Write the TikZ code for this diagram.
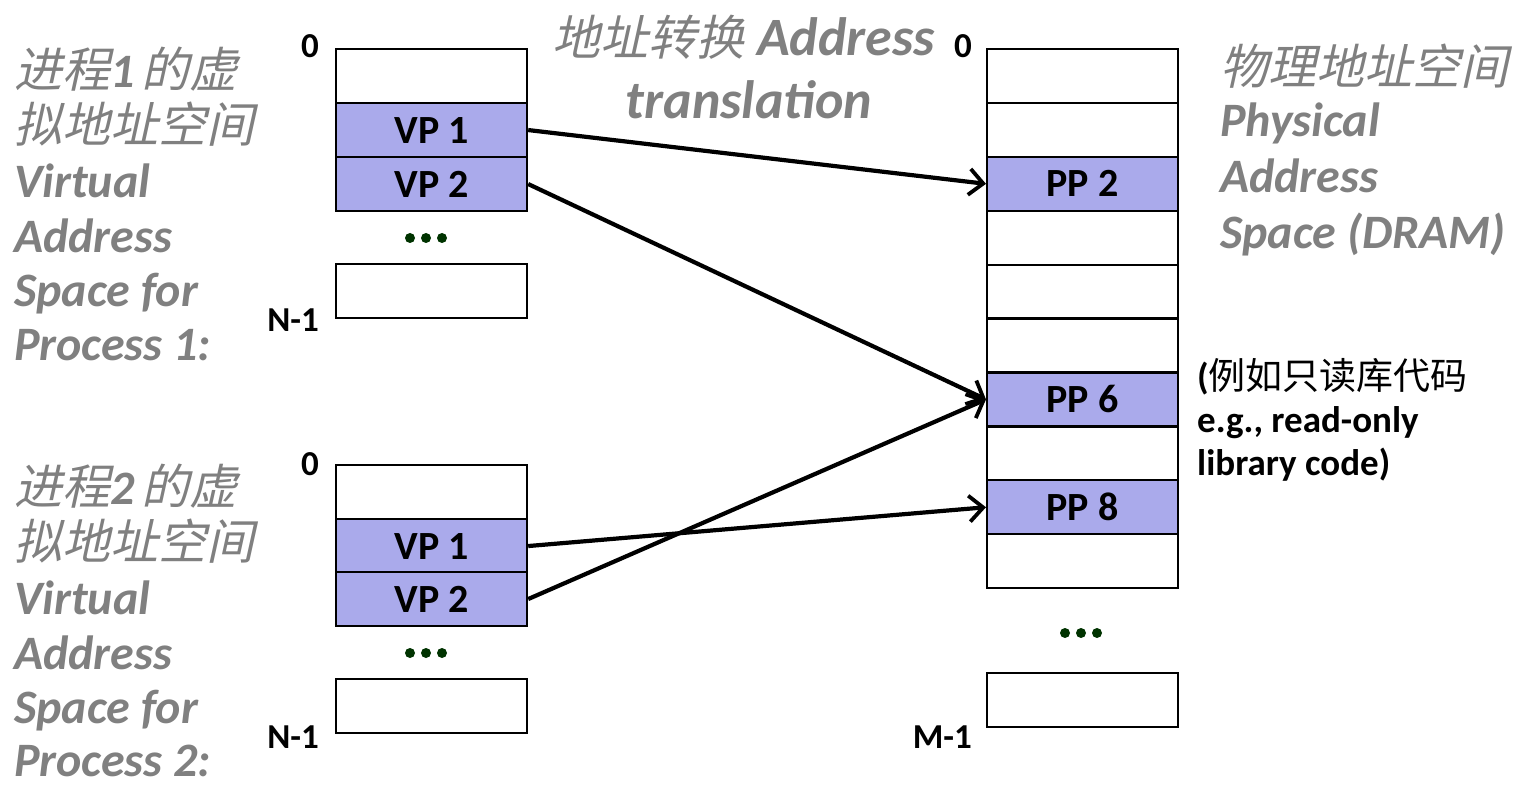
\documentclass[tikz,border=0pt]{standalone}
\usepackage{fontspec}
\setmainfont{Carlito}
\newfontfamily\cjk{Noto Sans CJK SC}
\newfontfamily\cjksl[FakeSlant=0.22]{Noto Sans CJK SC}
\usetikzlibrary{arrows.meta}
\definecolor{pagefill}{RGB}{170,170,235}
\definecolor{labelgray}{RGB}{128,128,128}
\definecolor{dotgreen}{RGB}{0,51,0}
\newcommand{\grayital}[1]{{\fontsize{48}{48}\selectfont\rmfamily\bfseries\itshape #1}}
\begin{document}
\begin{tikzpicture}[x=1pt,y=-1pt,
  cell/.style={draw=black, line width=2.2pt, minimum width=191pt, minimum height=53.9pt,
    inner sep=0pt, anchor=north west, font=\fontsize{40}{40}\selectfont\bfseries},
  used/.style={cell, fill=pagefill},
  idx/.style={font=\fontsize{35}{35}\selectfont\bfseries, anchor=base east, inner sep=0pt},
  graytxt/.style={text=labelgray, font=\fontsize{48}{48}\selectfont\bfseries\itshape, anchor=base west, inner sep=0pt},
  graycjk/.style={graytxt, font=\fontsize{48}{48}\selectfont\cjksl},
  toptxt/.style={text=labelgray, font=\fontsize{54}{54}\selectfont\bfseries\itshape, anchor=base, inner sep=0pt},
  note/.style={font=\fontsize{37}{37}\selectfont\bfseries, anchor=base west, inner sep=0pt},
  map/.style={line width=4.2pt, -{Straight Barb[length=14pt,width=26pt,line width=3.8pt]}},
  dot/.style={fill=dotgreen, draw=none, circle, minimum size=10pt, inner sep=0pt}]

\useasboundingbox (0,0) rectangle (1516,786);

% ---- virtual address space of process 1
\node[cell] (a0) at (335,48) {};
\node[used] (a1) at (335,102) {VP 1};
\node[used] (a2) at (335,156) {VP 2};
\node[dot] (ad1) at (410,238) {};
\node[dot] (ad2) at (426,238) {};
\node[dot] (ad3) at (442,238) {};
\node[cell] (an) at (335,263) {};
\node[idx] (a0lbl) at (319,58) {0};
\node[idx] (anlbl) at (319,332) {N-1};

% ---- virtual address space of process 2
\node[cell] (b0) at (335,464) {};
\node[used] (b1) at (335,518) {VP 1};
\node[used] (b2) at (335,571) {VP 2};
\node[dot] (bd1) at (410,653) {};
\node[dot] (bd2) at (426,653) {};
\node[dot] (bd3) at (442,653) {};
\node[cell] (bn) at (335,678) {};
\node[idx] (b0lbl) at (319,475) {0};
\node[idx] (bnlbl) at (319,748) {N-1};

% ---- physical memory
\node[cell] (p0) at (986,48) {};
\node[cell] (p1) at (986,101.9) {};
\node[used] (p2) at (986,155.8) {PP 2};
\node[cell] (p3) at (986,209.7) {};
\node[cell] (p4) at (986,263.6) {};
\node[cell] (p5) at (986,317.5) {};
\node[used] (p6) at (986,371.4) {PP 6};
\node[cell] (p7) at (986,425.3) {};
\node[used] (p8) at (986,479.2) {PP 8};
\node[cell] (p9) at (986,533.1) {};
\node[dot] (pd1) at (1065,633) {};
\node[dot] (pd2) at (1081,633) {};
\node[dot] (pd3) at (1097,633) {};
\node[cell] (pn) at (986,672) {};
\node[idx] (p0lbl) at (972,58) {0};
\node[idx] (pnlbl) at (972,748) {M-1};

% ---- page mappings
\draw[map] (a1.east) -- (p2.west);
\draw[map] (a2.east) -- (p6.west);
\draw[map] (b1.east) -- (p8.west);
\draw[map] (b2.east) -- (p6.west);

% ---- captions
\node[graycjk] (l1a) at (14,88) {进程\grayital{1}\hspace{7pt}的虚};
\node[graycjk] (l1b) at (14,143) {拟地址空间};
\node[graytxt] (l1c) at (14,198) {Virtual};
\node[graytxt] (l1d) at (14,253) {Address};
\node[graytxt] (l1e) at (14,307) {Space for};
\node[graytxt] (l1f) at (14,360) {Process 1:};

\node[graycjk] (l2a) at (14,504) {进程\grayital{2}\hspace{7pt}的虚};
\node[graycjk] (l2b) at (14,559) {拟地址空间};
\node[graytxt] (l2c) at (14,614) {Virtual};
\node[graytxt] (l2d) at (14,669) {Address};
\node[graytxt] (l2e) at (14,723) {Space for};
\node[graytxt] (l2f) at (14,776) {Process 2:};

\node[toptxt] (t1) at (744,56) {{\fontsize{48}{48}\selectfont\cjksl\mdseries\upshape 地址转换} Address};
\node[toptxt] (t2) at (749,119) {translation};

\node[graycjk] (r1) at (1220,85) {物理地址空间};
\node[graytxt] (r2) at (1220,137) {Physical};
\node[graytxt] (r3) at (1220,193) {Address};
\node[graytxt] (r4) at (1220,249) {Space (DRAM)};

\node[note] (n1) at (1197,389) {({\cjk\mdseries 例如只读库代码}};
\node[note] (n2) at (1197,432) {e.g., read-only};
\node[note] (n3) at (1197,475) {library code)};
\end{tikzpicture}
\end{document}
